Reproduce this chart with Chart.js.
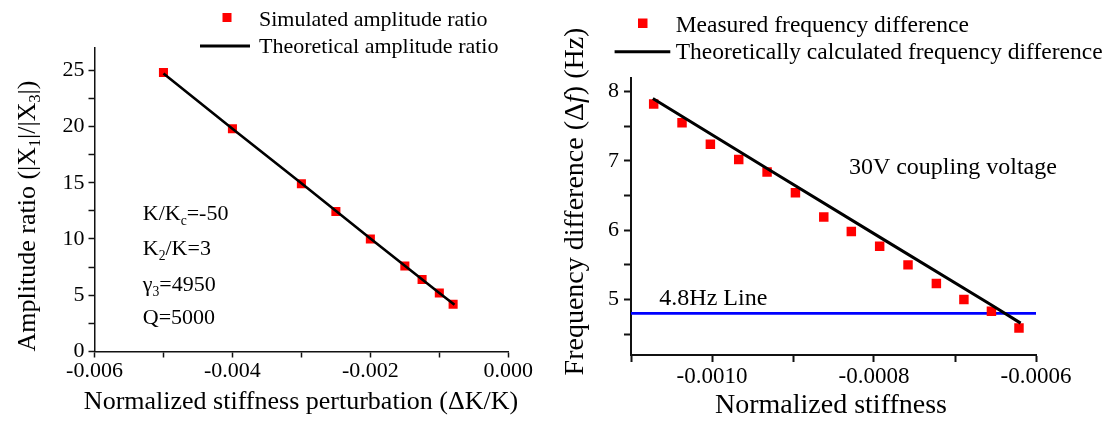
<!DOCTYPE html>
<html>
<head>
<meta charset="utf-8">
<script src="https://cdn.jsdelivr.net/npm/chart.js@4"></script>
<style>
  html, body { margin: 0; padding: 0; background: #fff; }
  #wrap { position: relative; width: 1113px; height: 421px; overflow: hidden; }
  canvas { position: absolute; top: 0; }
  #left { left: 0; }
  #right { left: 548px; }
</style>
</head>
<body>
<div id="wrap">
  <canvas id="left" width="548" height="421"></canvas>
  <canvas id="right" width="565" height="421"></canvas>
</div>
<script>
// ── Data: left panel (amplitude ratio vs ΔK/K) ─────────────────────────────
var simStiffness = [-0.005, -0.004, -0.003, -0.0025, -0.002, -0.0015, -0.00125, -0.001, -0.0008];
var simRatio = [24.8, 19.8, 14.9, 12.45, 10.0, 7.6, 6.4, 5.2, 4.2];
var theoryStiffness = [-0.005, -0.004, -0.003, -0.002, -0.001, -0.00078];
var theoryRatio = [24.7, 19.8, 14.95, 10.05, 5.2, 4.15];
var leftXTicks = [-0.006, -0.005, -0.004, -0.003, -0.002, -0.001, 0];
var leftXLabels = [-0.006, -0.004, -0.002, 0];
var leftYTicks = [0, 2.5, 5, 7.5, 10, 12.5, 15, 17.5, 20, 22.5, 25];
var leftYLabels = [0, 5, 10, 15, 20, 25];

// ── Data: right panel (frequency difference vs stiffness) ──────────────────
var measStiffness = [-0.001072, -0.001037, -0.001002, -0.000967, -0.000932, -0.000897, -0.000862,
                     -0.000828, -0.000793, -0.000758, -0.000723, -0.000689, -0.000655, -0.000621];
var measFreq = [7.82, 7.55, 7.24, 7.02, 6.84, 6.54, 6.19, 5.98, 5.77, 5.50, 5.23, 5.00, 4.83, 4.59];
var theoryFreqStiffness = [-0.001073, -0.000932, -0.000793, -0.000655, -0.000619];
var theoryFreq = [7.90, 6.89, 5.90, 4.92, 4.66];
var thresholdHz = 4.8;
var rightXRange = [-0.0011, -0.0006];
var rightXTicks = [-0.0011, -0.0010, -0.0009, -0.0008, -0.0007, -0.0006];
var rightXLabels = [-0.0010, -0.0008, -0.0006];
var rightYTicks = [4.5, 5, 5.5, 6, 6.5, 7, 7.5, 8];
var rightYLabels = [5, 6, 7, 8];

var FONT = '"Liberation Serif", "Times New Roman", serif';
Chart.defaults.font.family = FONT;
Chart.defaults.color = "#000";

function pts(xs, ys) {
    return xs.map(function (x, i) { return { x: x, y: ys[i] }; });
}
function hasValue(list, v) {
    return list.some(function (t) { return Math.abs(t - v) < 1e-9; });
}

// draws text made of parts: [text, style] with style "" | "sub" | "it"
function drawRich(ctx, parts, x, y, size, rotate, align) {
    ctx.save();
    ctx.translate(x, y);
    if (rotate) {
        ctx.rotate(-Math.PI / 2);
    }
    var fonts = parts.map(function (p) {
        if (p[1] === "sub") { return (size * 0.62) + "px " + FONT; }
        if (p[1] === "it") { return "italic " + size + "px " + FONT; }
        return size + "px " + FONT;
    });
    var total = 0;
    var widths = parts.map(function (p, i) {
        ctx.font = fonts[i];
        var w = ctx.measureText(p[0]).width;
        total += w;
        return w;
    });
    var cx = align === "left" ? 0 : -total / 2;
    ctx.fillStyle = "#000";
    ctx.textBaseline = "alphabetic";
    ctx.textAlign = "left";
    parts.forEach(function (p, i) {
        ctx.font = fonts[i];
        var dy = size * 0.33 + (p[1] === "sub" ? size * 0.22 : 0);
        ctx.fillText(p[0], cx, dy);
        cx += widths[i];
    });
    ctx.restore();
}

function axisOpts(min, max, tickList, labelList, digits, tickSize, tickLen, lineW, pad, fitSize, isX) {
    var o = {
        type: "linear",
        min: min,
        max: max,
        afterBuildTicks: function (s) {
            s.ticks = tickList.map(function (v) { return { value: v }; });
        },
        ticks: {
            autoSkip: false,
            maxRotation: 0,
            padding: pad,
            color: "#000",
            font: { family: FONT, size: tickSize },
            callback: function (v) {
                if (!hasValue(labelList, v)) {
                    return "";
                }
                return digits === null ? String(Math.round(v)) : (Math.abs(v) < 1e-12 ? 0 : v).toFixed(digits);
            }
        },
        grid: { drawOnChartArea: false, drawTicks: true, tickLength: tickLen, tickColor: "#111", tickWidth: lineW },
        border: { display: true, color: "#111", width: lineW }
    };
    if (isX) {
        o.position = "bottom";
        o.afterFit = function (s) { s.height = fitSize; };
    } else {
        o.position = "left";
        o.afterFit = function (s) { s.width = fitSize; };
    }
    return o;
}

// ── Left chart ─────────────────────────────────────────────────────────────
var leftDecor = {
    id: "leftDecor",
    afterDraw: function (chart) {
        var ctx = chart.ctx;
        var xs = chart.scales.x, ys = chart.scales.y;
        drawRich(ctx, [["Normalized stiffness perturbation (ΔK/K)", ""]], 301, 400, 26, false, "center");
        drawRich(ctx, [["Amplitude ratio (|X", ""], ["1", "sub"], ["|/|X", ""], ["3", "sub"], ["|)", ""]], 26, 216, 26, true, "center");
        var ax = xs.getPixelForValue(-0.0053);
        drawRich(ctx, [["K/K", ""], ["c", "sub"], ["=-50", ""]], ax, ys.getPixelForValue(12.29), 22, false, "left");
        drawRich(ctx, [["K", ""], ["2", "sub"], ["/K=3", ""]], ax, ys.getPixelForValue(9.21), 22, false, "left");
        drawRich(ctx, [["γ", ""], ["3", "sub"], ["=4950", ""]], ax, ys.getPixelForValue(6.0), 22, false, "left");
        drawRich(ctx, [["Q=5000", ""]], ax, ys.getPixelForValue(3.1), 22, false, "left");
        // legend
        ctx.save();
        ctx.fillStyle = "#ff0000";
        ctx.fillRect(222.5, 13, 9, 9);
        ctx.strokeStyle = "#000";
        ctx.lineWidth = 3;
        ctx.beginPath();
        ctx.moveTo(200, 46);
        ctx.lineTo(250, 46);
        ctx.stroke();
        ctx.restore();
        drawRich(ctx, [["Simulated amplitude ratio", ""]], 259, 19, 22, false, "left");
        drawRich(ctx, [["Theoretical amplitude ratio", ""]], 259, 46, 22, false, "left");
    }
};

new Chart(document.getElementById("left"), {
    type: "scatter",
    data: {
        datasets: [
            {
                label: "Simulated amplitude ratio",
                data: pts(simStiffness, simRatio),
                pointStyle: "rect",
                pointRadius: 6.4,
                pointBackgroundColor: "#ff0000",
                pointBorderWidth: 0,
                showLine: false,
                order: 1
            },
            {
                label: "Theoretical amplitude ratio",
                data: pts(theoryStiffness, theoryRatio),
                showLine: true,
                borderColor: "#000",
                borderWidth: 2.6,
                pointRadius: 0,
                order: 0
            }
        ]
    },
    options: {
        responsive: false,
        animation: false,
        devicePixelRatio: 1,
        layout: { padding: { left: 0, right: 39.7, top: 47.7, bottom: 0 } },
        plugins: { legend: { display: false }, tooltip: { enabled: false } },
        scales: {
            x: axisOpts(-0.006, 0, leftXTicks, leftXLabels, 3, 22, 6, 1.5, 1, 69.5, true),
            y: axisOpts(0, 27, leftYTicks, leftYLabels, null, 22, 6, 1.5, 4, 94.5, false)
        }
    },
    plugins: [leftDecor]
});

// ── Right chart ────────────────────────────────────────────────────────────
var rightDecor = {
    id: "rightDecor",
    afterDraw: function (chart) {
        var ctx = chart.ctx;
        var xs = chart.scales.x, ys = chart.scales.y;
        drawRich(ctx, [["Normalized stiffness", ""]], 283, 404, 28, false, "center");
        drawRich(ctx, [["Frequency difference (Δ", ""], ["f", "it"], [") (Hz)", ""]], 25.5, 201.5, 28, true, "center");
        drawRich(ctx, [["30V coupling voltage", ""]], xs.getPixelForValue(-0.000831), ys.getPixelForValue(6.92), 24, false, "left");
        drawRich(ctx, [["4.8Hz Line", ""]], xs.getPixelForValue(-0.001065), ys.getPixelForValue(5.03), 24, false, "left");
        // legend
        ctx.save();
        ctx.fillStyle = "#ff0000";
        ctx.fillRect(90, 18.5, 9.5, 9.5);
        ctx.strokeStyle = "#000";
        ctx.lineWidth = 3;
        ctx.beginPath();
        ctx.moveTo(66.6, 51.7);
        ctx.lineTo(122.3, 51.7);
        ctx.stroke();
        ctx.restore();
        drawRich(ctx, [["Measured frequency difference", ""]], 127.7, 23.8, 23.5, false, "left");
        drawRich(ctx, [["Theoretically calculated frequency difference", ""]], 127.7, 50.8, 23.5, false, "left");
    }
};

new Chart(document.getElementById("right"), {
    type: "scatter",
    data: {
        datasets: [
            {
                label: "Measured frequency difference",
                data: pts(measStiffness, measFreq),
                pointStyle: "rect",
                pointRadius: 6.7,
                pointBackgroundColor: "#ff0000",
                pointBorderWidth: 0,
                showLine: false,
                order: 1
            },
            {
                label: "Theoretically calculated frequency difference",
                data: pts(theoryFreqStiffness, theoryFreq),
                showLine: true,
                borderColor: "#000",
                borderWidth: 3,
                pointRadius: 0,
                order: 0
            },
            {
                label: "4.8Hz Line",
                data: pts(rightXRange, [thresholdHz, thresholdHz]),
                showLine: true,
                borderColor: "#0000ff",
                borderWidth: 2.6,
                pointRadius: 0,
                order: 2
            }
        ]
    },
    options: {
        responsive: false,
        animation: false,
        devicePixelRatio: 1,
        layout: { padding: { left: 0, right: 77, top: 77.7, bottom: 0 } },
        plugins: { legend: { display: false }, tooltip: { enabled: false } },
        scales: {
            x: axisOpts(rightXRange[0], rightXRange[1], rightXTicks, rightXLabels, 4, 23, 7, 2, 1, 66, true),
            y: axisOpts(4.2, 8.2, rightYTicks, rightYLabels, null, 22, 7, 2, 5, 83, false)
        }
    },
    plugins: [rightDecor]
});
</script>
</body>
</html>
